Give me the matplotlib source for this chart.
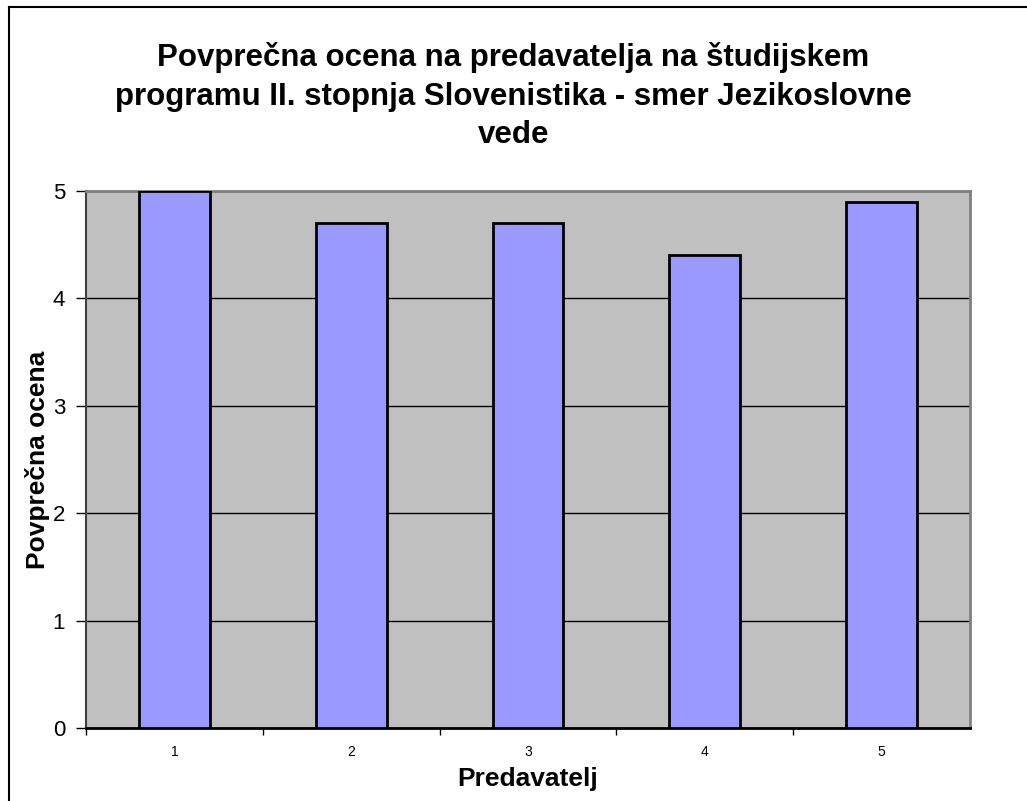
import matplotlib
matplotlib.use("Agg")
import matplotlib.pyplot as plt
from matplotlib.lines import Line2D

categories = ["1", "2", "3", "4", "5"]
values = [5.0, 4.7, 4.7, 4.4, 4.9]
yticks = [0, 1, 2, 3, 4, 5]
title = "Povprečna ocena na predavatelja na študijskem\nprogramu II. stopnja Slovenistika - smer Jezikoslovne\nvede"
xlabel = "Predavatelj"
ylabel = "Povprečna ocena"

plt.rcParams['font.family'] = ['Liberation Sans', 'DejaVu Sans']

fig = plt.figure(figsize=(10.27, 8.01), dpi=100)
W, H = 1027, 801
ax = fig.add_axes([86 / W, 1 - 728 / H, (970 - 86) / W, (728 - 191) / H])
ax.set_facecolor('#C0C0C0')

x = list(range(len(categories)))
ax.bar(x, values, width=0.4, color='#9999FF', edgecolor='black', linewidth=2, zorder=3)

ax.set_xlim(-0.5, len(categories) - 0.5)
ax.set_ylim(0, 5)
ax.set_yticks(yticks)
ax.set_yticklabels([str(t) for t in yticks], fontsize=16)
ax.yaxis.grid(True, color='black', linewidth=1)
ax.set_axisbelow(True)

ax.set_xticks(x)
ax.set_xticklabels(categories, fontsize=10)
ax.set_xticks([i + 0.5 for i in x[:-1]] + [-0.5], minor=True)
ax.tick_params(axis='x', which='major', length=0, pad=12)
ax.tick_params(axis='x', which='minor', length=5, width=1, direction='out', color='black')
ax.tick_params(axis='y', length=7, width=1, direction='out', color='black', pad=8)

for s in ['top', 'right']:
    ax.spines[s].set_color('#808080')
    ax.spines[s].set_linewidth(2)
ax.spines['left'].set_color('#404040')
ax.spines['left'].set_linewidth(1.5)
ax.spines['bottom'].set_color('black')
ax.spines['bottom'].set_linewidth(2)

ax.set_xlabel(xlabel, fontsize=19, fontweight='bold', labelpad=6)
ax.set_ylabel(ylabel, fontsize=19, fontweight='bold', labelpad=2)

fig.text(0.5, 1 - 96 / H, title, ha='center', va='center', fontsize=22.5,
         fontweight='bold', linespacing=1.38)

# figure frame (left and top only visible)
fig.add_artist(Line2D([9 / W, 9 / W], [0, 1 - 7 / H], color='black', linewidth=1.5,
                      transform=fig.transFigure))
fig.add_artist(Line2D([9 / W, 1], [1 - 7 / H, 1 - 7 / H], color='black', linewidth=1.5,
                      transform=fig.transFigure))

fig.savefig('out.png', dpi=100)
